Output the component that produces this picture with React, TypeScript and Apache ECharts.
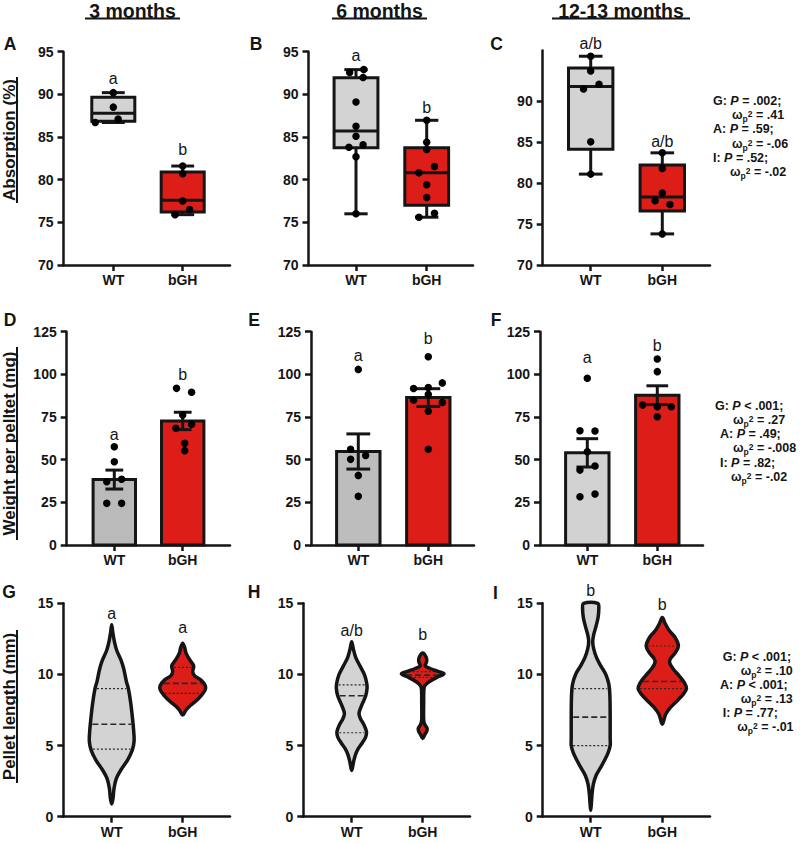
import React, { useEffect, useRef } from 'react';
import * as echarts from 'echarts';

const FONT = '"Liberation Sans", Arial, Helvetica, sans-serif';
const INK = '#151515';
const GRAY = '#d3d3d3';
const RED = '#dc1d18';

const GROUPS = ['WT', 'bGH'];
const COLUMN_TITLES = ['3 months', '6 months', '12-13 months'];
const PANEL_LETTERS = ['A', 'B', 'C', 'D', 'E', 'F', 'G', 'H', 'I'];
const ROW_TITLES = ['Absorption (%)', 'Weight per pelltet (mg)', 'Pellet length (mm)'];

const ABS_TICKS = [70, 75, 80, 85, 90, 95];
const WEIGHT_TICKS = [0, 25, 50, 75, 100, 125];
const LENGTH_TICKS = [0, 5, 10, 15];

// ---------- Row 1: Absorption (%) — box = [min, Q1, median, Q3, max]; points = [jitter, value]
const absBox3 = [[86.7, 86.85, 87.8, 89.65, 90.2], [75.9, 76.2, 77.6, 80.9, 81.6]];
const absPts3WT = [[0, 90.2], [0, 88.5], [-0.26, 86.7], [0.07, 87.1]];
const absPts3BGH = [[0, 81.6], [0, 80.7], [0, 77.5], [0.1, 76.5], [-0.11, 75.9]];
const absLetters3 = [['a', 91.9], ['b', 83.5]];

const absBox6 = [[76.0, 83.75, 85.7, 91.95, 92.9], [75.6, 77.0, 80.8, 83.75, 86.96]];
const absPts6WT = [[-0.09, 92.57], [0.11, 92.9], [0.1, 91.98], [0, 89.1], [0, 86.25], [0, 85.1], [-0.1, 83.8], [0.1, 84.1], [0, 82.7], [0, 76.0]];
const absPts6BGH = [[0, 86.96], [0, 84.4], [0, 83.55], [0.11, 81.55], [-0.11, 80.8], [0, 79.4], [0, 77.9], [0.11, 76.06], [-0.11, 75.6]];
const absLetters6 = [['a', 94.6], ['b', 88.5]];

const absBox12 = [[81.1, 84.15, 91.8, 94.07, 95.5], [73.8, 76.6, 78.3, 82.2, 83.7]];
const absPts12WT = [[0, 95.5], [0, 93.7], [-0.1, 91.5], [0.116, 92.07], [0, 85.04], [0, 81.1]];
const absPts12BGH = [[0, 83.7], [0, 81.8], [0, 78.8], [-0.1, 77.85], [0.107, 77.4], [0, 73.8]];
const absLetters12 = [['a/b', 97.1], ['a/b', 85.1]];

// ---------- Row 2: Weight per pellet (mg) — mean, SEM, points
const wMean3 = [38.35, 72.7];
const wSem3 = [5.55, 5.1];
const wPts3WT = [[0, 57.6], [0, 48.8], [-0.11, 37.1], [0.107, 38.5], [-0.11, 24.4], [0.107, 24.4]];
const wPts3BGH = [[-0.09, 91.8], [0.13, 89.5], [0, 76.2], [0.13, 70.7], [-0.1, 68.4], [0.03, 59.6], [0.03, 55.3]];
const wLetters3 = [['a', 65.0], ['b', 100.2]];

const wMean6 = [54.8, 86.4];
const wSem6 = [10.3, 5.2];
const wPts6WT = [[0, 102.9], [-0.11, 56.1], [0.105, 52.5], [-0.11, 50.2], [0, 40.8], [0, 28.5]];
const wPts6BGH = [[0, 110.3], [-0.21, 91.7], [0, 92.3], [0.2, 95.0], [0, 88.2], [-0.21, 84.9], [0.2, 83.5], [0, 78.4], [0, 56.1]];
const wLetters6 = [['a', 111.3], ['b', 121.3]];

const wMean12 = [54.0, 87.8];
const wSem12 = [8.3, 5.5];
const wPts12WT = [[0, 97.7], [-0.105, 67.0], [0.11, 66.8], [0, 54.7], [-0.105, 43.9], [0.11, 46.3], [-0.105, 28.3], [0.11, 29.9]];
const wPts12BGH = [[0, 109.0], [0, 101.6], [-0.21, 82.0], [0, 81.05], [0.2, 81.05], [0, 75.2]];
const wLetters12 = [['a', 109.6], ['b', 117.2]];

// ---------- Row 3: Pellet length (mm) — violin outline [value, half-width], quartiles [Q1, median, Q3]
const lenViolin3WT = [[13.5, 0], [13.0, 0.014], [12.3, 0.038], [11.7, 0.07], [11.0, 0.131], [10.4, 0.169], [9.5, 0.207], [9.0, 0.235], [8.0, 0.268], [7.0, 0.291], [6.0, 0.31], [5.3, 0.315], [4.7, 0.291], [4.0, 0.225], [3.3, 0.131], [2.7, 0.066], [2.0, 0.033], [1.3, 0.019], [0.9, 0]];
const lenViolin3BGH = [[12.2, 0], [11.9, 0.028], [11.5, 0.047], [11.0, 0.103], [10.6, 0.155], [10.2, 0.141], [9.9, 0.169], [9.6, 0.258], [9.2, 0.319], [8.9, 0.315], [8.5, 0.258], [8.1, 0.178], [7.8, 0.103], [7.5, 0.047], [7.15, 0]];
const lenQuart3 = [[4.75, 6.5, 9.0], [8.67, 9.37, 10.5]];
const lenLetters3 = [['a', 14.3], ['a', 13.3]];

const lenViolin6WT = [[12.3, 0], [11.8, 0.023], [11.2, 0.056], [10.6, 0.117], [10.0, 0.178], [9.4, 0.211], [9.0, 0.216], [8.5, 0.197], [8.0, 0.155], [7.6, 0.122], [7.25, 0.103], [6.9, 0.122], [6.5, 0.169], [6.0, 0.207], [5.6, 0.197], [5.2, 0.15], [4.8, 0.094], [4.4, 0.056], [3.9, 0.028], [3.25, 0]];
const lenViolin6BGH = [[11.5, 0], [11.2, 0.049], [10.9, 0.056], [10.6, 0.035], [10.4, 0.113], [10.2, 0.225], [10.05, 0.3], [9.85, 0.225], [9.6, 0.127], [9.35, 0.056], [9.1, 0.021], [8.0, 0.014], [6.8, 0.014], [6.5, 0.028], [6.2, 0.063], [6.0, 0.056], [5.75, 0.028], [5.5, 0]];
const lenQuart6 = [[5.9, 8.5, 9.26], [9.8, 9.95, 10.2]];
const lenLetters6 = [['a/b', 13.1], ['b', 12.8]];

const lenViolin12WT = [[15.0, 0.099], [14.6, 0.113], [14.0, 0.103], [13.4, 0.075], [12.8, 0.042], [12.3, 0.028], [11.8, 0.042], [11.2, 0.08], [10.6, 0.141], [10.0, 0.211], [9.3, 0.254], [8.5, 0.268], [7.0, 0.272], [5.5, 0.272], [5.0, 0.272], [4.5, 0.244], [4.0, 0.197], [3.4, 0.131], [2.9, 0.075], [2.3, 0.038], [1.6, 0.019], [0.9, 0.009], [0.45, 0]];
const lenViolin12BGH = [[14.0, 0], [13.6, 0.038], [13.1, 0.094], [12.6, 0.178], [12.0, 0.225], [11.5, 0.178], [11.1, 0.113], [10.8, 0.103], [10.4, 0.15], [9.9, 0.235], [9.4, 0.31], [9.0, 0.338], [8.6, 0.291], [8.1, 0.197], [7.7, 0.117], [7.2, 0.047], [6.5, 0]];
const lenQuart12 = [[5.0, 7.0, 9.0], [9.0, 9.5, 12.0]];
const lenLetters12 = [['b', 15.9], ['b', 14.9]];

// ---------- Statistics text (right column)
const STATS_ROW1 = [['G', '=', '.002', '.41'], ['A', '=', '.59', '-.06'], ['I', '=', '.52', '-.02']];
const STATS_ROW2 = [['G', '<', '.001', '.27'], ['A', '=', '.49', '-.008'], ['I', '=', '.82', '-.02']];
const STATS_ROW3 = [['G', '<', '.001', '.10'], ['A', '<', '.001', '.13'], ['I', '=', '.77', '-.01']];

// ---------- Layout (pixels)
const LAYOUT = [
  { left: 63.5, right: 230, top: 51.7, bottom: 265, wt: 113.3, bgh: 182.7 },
  { left: 308.5, right: 473, top: 51.7, bottom: 265, wt: 356, bgh: 426.7 },
  { left: 542.7, right: 710, top: 50.5, bottom: 265, wt: 590.7, bgh: 662.3 },
  { left: 66.7, right: 230, top: 331.7, bottom: 545, wt: 114.3, bgh: 182.7 },
  { left: 311, right: 474, top: 331.7, bottom: 545, wt: 358.3, bgh: 428.3 },
  { left: 540, right: 703, top: 331.7, bottom: 545, wt: 587.3, bgh: 657.3 },
  { left: 63.3, right: 230, top: 603.3, bottom: 816.7, wt: 111.7, bgh: 182.7 },
  { left: 303.3, right: 470, top: 603.3, bottom: 816.7, wt: 351.7, bgh: 422.7 },
  { left: 542.7, right: 710, top: 603.3, bottom: 816.7, wt: 590.7, bgh: 662.3 },
];
const Y_RANGES = [
  [70, 95, ABS_TICKS], [70, 95, ABS_TICKS], [70, 96.2, ABS_TICKS],
  [0, 125, WEIGHT_TICKS], [0, 125, WEIGHT_TICKS], [0, 125, WEIGHT_TICKS],
  [0, 15, LENGTH_TICKS], [0, 15, LENGTH_TICKS], [0, 15, LENGTH_TICKS],
];

const PANELS: any[] = [
  { kind: 'box', boxes: absBox3, pts: [absPts3WT, absPts3BGH], letters: absLetters3 },
  { kind: 'box', boxes: absBox6, pts: [absPts6WT, absPts6BGH], letters: absLetters6 },
  { kind: 'box', boxes: absBox12, pts: [absPts12WT, absPts12BGH], letters: absLetters12 },
  { kind: 'bar', mean: wMean3, sem: wSem3, pts: [wPts3WT, wPts3BGH], letters: wLetters3, wtFill: '#bababa', cap: 0.13 },
  { kind: 'bar', mean: wMean6, sem: wSem6, pts: [wPts6WT, wPts6BGH], letters: wLetters6, wtFill: '#bdbdbd', cap: 0.17 },
  { kind: 'bar', mean: wMean12, sem: wSem12, pts: [wPts12WT, wPts12BGH], letters: wLetters12, wtFill: '#d2d2d2', cap: 0.155 },
  { kind: 'violin', outlines: [lenViolin3WT, lenViolin3BGH], quarts: lenQuart3, letters: lenLetters3 },
  { kind: 'violin', outlines: [lenViolin6WT, lenViolin6BGH], quarts: lenQuart6, letters: lenLetters6 },
  { kind: 'violin', outlines: [lenViolin12WT, lenViolin12BGH], quarts: lenQuart12, letters: lenLetters12 },
];

const BOX_HALF = 0.31;
const WHISKER_CAP = 0.165;

function line(p1: number[], p2: number[], style: any) {
  return { type: 'line', shape: { x1: p1[0], y1: p1[1], x2: p2[0], y2: p2[1] }, style };
}

function halfWidthAt(ol: number[][], y: number) {
  for (let k = 0; k < ol.length - 1; k++) {
    const [y1, w1] = ol[k];
    const [y2, w2] = ol[k + 1];
    if (y <= y1 && y >= y2) return w1 + ((w2 - w1) * (y - y1)) / (y2 - y1);
  }
  return 0;
}

function buildSeries() {
  const series: any[] = [];
  PANELS.forEach((p, i) => {
    const axes = { xAxisIndex: i, yAxisIndex: i };
    const fills = [p.wtFill || GRAY, RED];
    const stroke = { stroke: INK, lineWidth: 3 };
    if (p.kind === 'box') {
      series.push({
        type: 'custom', ...axes, z: 2,
        data: [[1, p.boxes[0][2]], [2, p.boxes[1][2]]],
        renderItem: (params: any, api: any) => {
          const x = api.value(0);
          const [mn, q1, md, q3, mx] = p.boxes[params.dataIndex];
          const c = (a: number, b: number) => api.coord([a, b]);
          const tl = c(x - BOX_HALF, q3);
          const br = c(x + BOX_HALF, q1);
          return {
            type: 'group',
            children: [
              line(c(x, mx), c(x, q3), stroke),
              line(c(x, q1), c(x, mn), stroke),
              line(c(x - WHISKER_CAP, mx), c(x + WHISKER_CAP, mx), stroke),
              line(c(x - WHISKER_CAP, mn), c(x + WHISKER_CAP, mn), stroke),
              { type: 'rect', shape: { x: tl[0], y: tl[1], width: br[0] - tl[0], height: br[1] - tl[1] }, style: { fill: fills[params.dataIndex], ...stroke } },
              line(c(x - BOX_HALF, md), c(x + BOX_HALF, md), stroke),
            ],
          };
        },
      });
    } else if (p.kind === 'bar') {
      series.push({
        type: 'custom', ...axes, z: 2,
        data: [[1, p.mean[0]], [2, p.mean[1]]],
        renderItem: (params: any, api: any) => {
          const x = api.value(0);
          const m = p.mean[params.dataIndex];
          const s = p.sem[params.dataIndex];
          const c = (a: number, b: number) => api.coord([a, b]);
          const tl = c(x - BOX_HALF, m);
          const br = c(x + BOX_HALF, 0);
          return {
            type: 'group',
            children: [
              { type: 'rect', shape: { x: tl[0], y: tl[1], width: br[0] - tl[0], height: br[1] - tl[1] }, style: { fill: fills[params.dataIndex], ...stroke } },
              line(c(x, m - s), c(x, m + s), stroke),
              line(c(x - p.cap, m + s), c(x + p.cap, m + s), stroke),
              line(c(x - p.cap, m - s), c(x + p.cap, m - s), stroke),
            ],
          };
        },
      });
    } else {
      series.push({
        type: 'custom', ...axes, z: 2,
        data: [[1, p.quarts[0][1]], [2, p.quarts[1][1]]],
        renderItem: (params: any, api: any) => {
          const x = api.value(0);
          const ol = p.outlines[params.dataIndex];
          const right = ol.map(([y, w]: number[]) => api.coord([x + w, y]));
          const left = ol.slice().reverse().filter(([, w]: number[]) => w > 0).map(([y, w]: number[]) => api.coord([x - w, y]));
          const pts = right.concat(left);
          const children: any[] = [
            { type: 'polygon', shape: { points: pts, smooth: 0.35 }, style: { fill: fills[params.dataIndex], stroke: 'none' } },
          ];
          p.quarts[params.dataIndex].forEach((q: number, k: number) => {
            const w = halfWidthAt(ol, q);
            const a = api.coord([x - w, q]);
            const b = api.coord([x + w, q]);
            children.push(line([a[0] + 2, a[1]], [b[0] - 2, b[1]], k === 1
              ? { stroke: '#2a2a2a', lineWidth: 1.6, lineDash: [6, 3] }
              : { stroke: '#2a2a2a', lineWidth: 1.2, lineDash: [2, 2] }));
          });
          children.push({ type: 'polygon', shape: { points: pts, smooth: 0.35 }, style: { fill: 'none', stroke: INK, lineWidth: 3.5, lineJoin: 'round' } });
          return { type: 'group', children };
        },
      });
    }
    if (p.pts) {
      series.push({
        type: 'scatter', ...axes, z: 3,
        symbol: 'circle', symbolSize: 7.5,
        itemStyle: { color: '#000000', opacity: 1 },
        data: p.pts[0].map(([dx, v]: number[]) => [1 + dx, v]).concat(p.pts[1].map(([dx, v]: number[]) => [2 + dx, v])),
      });
    }
    series.push({
      type: 'custom', ...axes, z: 4,
      data: [[1, p.letters[0][1]], [2, p.letters[1][1]]],
      renderItem: (params: any, api: any) => {
        const pt = api.coord([api.value(0), api.value(1)]);
        return {
          type: 'text', x: pt[0], y: pt[1],
          style: { text: p.letters[params.dataIndex][0], align: 'center', verticalAlign: 'middle', fontSize: 16, fontFamily: FONT, fill: INK },
        };
      },
    });
  });
  return series;
}

function statsElements(rows: string[][], y0: number, step: number, xl: number[], xw: number[]) {
  const rich = {
    b: { fontWeight: 'bold', fontSize: 12.5, fontFamily: FONT, fill: INK, color: INK, lineHeight: 11, verticalAlign: 'middle' },
    i: { fontWeight: 'bold', fontStyle: 'italic', fontSize: 12.5, fontFamily: FONT, fill: INK, color: INK, lineHeight: 11, verticalAlign: 'middle' },
    sub: { fontWeight: 'bold', fontSize: 8.5, fontFamily: FONT, fill: INK, color: INK, lineHeight: 6, verticalAlign: 'bottom', padding: [0, 0, -3, 0] },
    sup: { fontWeight: 'bold', fontSize: 8.5, fontFamily: FONT, fill: INK, color: INK, lineHeight: 6, verticalAlign: 'top' },
  };
  const els: any[] = [];
  rows.forEach((r, k) => {
    els.push({
      type: 'text', x: xl[k], y: y0 + step * 2 * k,
      style: { text: `{b|${r[0]}: }{i|P}{b| ${r[1]} ${r[2]};}`, rich, align: 'left', verticalAlign: 'middle' },
    });
    els.push({
      type: 'text', x: xw[k], y: y0 + step * (2 * k + 1),
      style: { text: `{b|ω}{sub|p}{sup|2}{b| = ${r[3]}}`, rich, align: 'left', verticalAlign: 'middle' },
    });
  });
  return els;
}

function buildGraphic() {
  const els: any[] = [];
  const titleX = [132.5, 379.5, 621];
  const titleSpan = [[85, 180], [332, 427], [552, 690]];
  COLUMN_TITLES.forEach((t, k) => {
    els.push({ type: 'text', x: titleX[k], y: 10.5, style: { text: t, align: 'center', verticalAlign: 'middle', fontSize: 19.5, fontWeight: 'bold', fontFamily: FONT, fill: INK } });
    els.push({ type: 'line', shape: { x1: titleSpan[k][0], y1: 18.5, x2: titleSpan[k][1], y2: 18.5 }, style: { stroke: INK, lineWidth: 2 } });
  });
  const letterPos = [[10, 44], [256, 44], [496.5, 44], [10, 320], [254, 320], [496, 320], [9, 591.5], [254, 591.5], [495.5, 592.5]];
  PANEL_LETTERS.forEach((l, k) => {
    els.push({ type: 'text', x: letterPos[k][0], y: letterPos[k][1], style: { text: l, align: 'center', verticalAlign: 'middle', fontSize: 17.5, fontWeight: 'bold', fontFamily: FONT, fill: INK } });
  });
  const rowY = [140, 443.5, 706.5];
  const rowSpan = [[77, 203], [347, 540], [630, 783]];
  ROW_TITLES.forEach((t, k) => {
    els.push({ type: 'text', x: 9, y: rowY[k], rotation: Math.PI / 2, style: { text: t, align: 'center', verticalAlign: 'middle', fontSize: 17, fontWeight: 'bold', fontFamily: FONT, fill: INK } });
    els.push({ type: 'line', shape: { x1: 17, y1: rowSpan[k][0], x2: 17, y2: rowSpan[k][1] }, style: { stroke: INK, lineWidth: 2 } });
  });
  els.push(...statsElements(STATS_ROW1, 101, 14.2, [713, 713, 713], [732, 732, 730]));
  els.push(...statsElements(STATS_ROW2, 405.5, 14.3, [715, 720, 720], [733, 733, 731]));
  els.push(...statsElements(STATS_ROW3, 656.5, 14.1, [722.7, 720, 722.7], [740.7, 740.7, 737.3]));
  return els;
}

function buildOption() {
  const axisLine = { color: INK, width: 2.5 };
  const labelStyle = { fontWeight: 'bold', fontSize: 14, color: INK, fontFamily: FONT };
  return {
    animation: false,
    backgroundColor: '#ffffff',
    grid: LAYOUT.map((l) => ({ left: l.left, top: l.top, width: l.right - l.left, height: l.bottom - l.top, containLabel: false, outerBoundsMode: 'none' })),
    xAxis: LAYOUT.map((l, i) => {
      const sp = l.bgh - l.wt;
      return {
        type: 'value', gridIndex: i,
        min: 1 - (l.wt - l.left) / sp,
        max: 2 + (l.right - l.bgh) / sp,
        axisLine: { show: true, onZero: false, lineStyle: axisLine },
        axisTick: { show: true, customValues: [1, 2], length: 6, lineStyle: axisLine },
        axisLabel: { show: true, customValues: [1, 2], formatter: (v: number) => GROUPS[Math.round(v) - 1] || '', margin: 8, ...labelStyle },
        splitLine: { show: false },
      };
    }),
    yAxis: Y_RANGES.map(([mn, mx, ticks]: any, i) => ({
      type: 'value', gridIndex: i, min: mn, max: mx,
      interval: ticks[1] - ticks[0],
      axisLine: { show: true, onZero: false, lineStyle: axisLine },
      axisTick: { show: true, customValues: ticks, length: 6, lineStyle: axisLine },
      axisLabel: { show: true, customValues: ticks, margin: 10, showMaxLabel: mx === ticks[ticks.length - 1], ...labelStyle },
      splitLine: { show: false },
    })),
    series: buildSeries(),
    graphic: { elements: buildGraphic() },
  };
}

export default function App() {
  const ref = useRef<HTMLDivElement>(null);
  useEffect(() => {
    if (!ref.current) return;
    const chart = echarts.init(ref.current, undefined, { renderer: 'svg' });
    chart.setOption(buildOption() as any);
    return () => chart.dispose();
  }, []);
  return <div ref={ref} style={{ position: 'absolute', left: 0, top: 0, width: 800, height: 844, background: '#fff' }} />;
}
